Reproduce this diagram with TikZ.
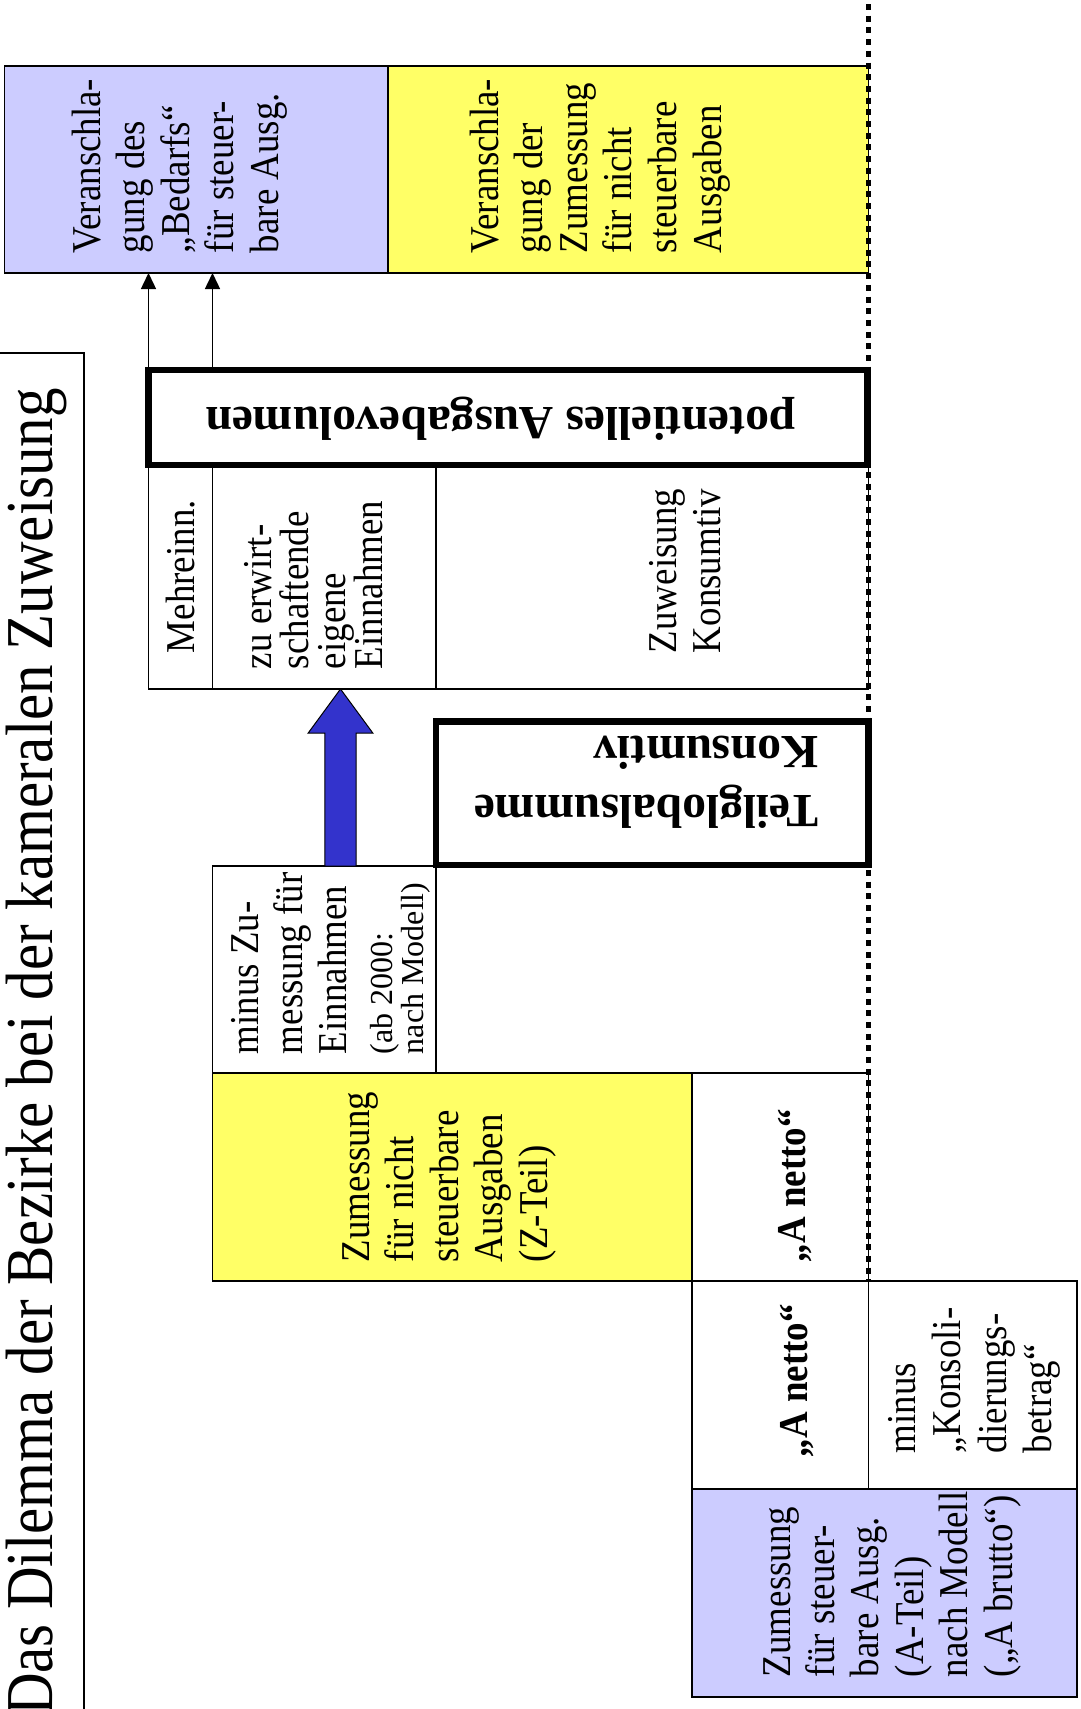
\documentclass[tikz,border=0pt]{standalone}
\usepackage{fontspec}
\setmainfont{Liberation Serif}
\newfontfamily\rotfont{Liberation Serif}[FakeStretch=0.9]
\newfontfamily\titlefont{Liberation Serif}[FakeStretch=0.88]
\usetikzlibrary{arrows.meta,calc}
\setlength{\lineskiplimit}{-100pt}
\definecolor{lav}{HTML}{CCCCFF}
\definecolor{yel}{HTML}{FFFF66}
\definecolor{arrowblue}{HTML}{3333CC}
\newcommand\myr[1]{\rule{0pt}{#1}}
\begin{document}
\begin{tikzpicture}[x=1pt,y=-1pt,
  cell/.style={draw=black, line width=1.8pt, inner sep=0pt, outer sep=0pt, anchor=north west},
  heavycell/.style={cell, line width=6.5pt},
  vtxt/.style={rotate=90, inner sep=0pt, outer sep=0pt, align=left, font=\rotfont\fontsize{41}{44.5}\selectfont},
  vbold/.style={vtxt, font=\rotfont\bfseries\fontsize{41}{44.5}\selectfont},
  utxt/.style={rotate=180, inner sep=0pt, outer sep=0pt, align=left, font=\bfseries\fontsize{47.5}{59}\selectfont},
  thinarrow/.style={line width=1.5pt, -{Triangle[length=16pt,width=15pt]}},
  dotline/.style={line width=5.5pt, dash pattern=on 6pt off 5.7pt},
  bigarrow/.style={fill=arrowblue, draw=black, line width=1pt}
]
\useasboundingbox (0,0) rectangle (1080,1709);
\fill[white] (0,0) rectangle (1080,1709);
\clip (0,0) rectangle (1080,1709);

% title frame
\draw[line width=1.8pt] (-10,353) rectangle (84,1720);
\node[rotate=90, inner sep=0pt, anchor=base east, font=\titlefont\fontsize{67}{70}\selectfont] (title) at (52,388) {Das Dilemma der Bezirke bei der kameralen Zuweisung};

% boxes
\node[cell, fill=lav, minimum width=383.5pt, minimum height=207pt] (topblue) at (4.5,66) {};
\node[cell, fill=yel, minimum width=480.5pt, minimum height=207pt] (topyel) at (388,66) {};
\node[cell, minimum width=64pt, minimum height=224pt] (mehr) at (148.5,465) {};
\node[cell, minimum width=223.5pt, minimum height=224pt] (zu) at (212.5,465) {};
\node[cell, minimum width=432.5pt, minimum height=224pt] (zuw) at (436,465) {};
\node[cell, minimum width=223.5pt, minimum height=207pt] (minuszu) at (212.5,866) {};
\node[cell, fill=yel, minimum width=479.5pt, minimum height=208pt] (zteil) at (212.5,1073) {};
\node[cell, minimum width=176.5pt, minimum height=208pt] (anet1) at (692,1073) {};
\node[cell, minimum width=176.5pt, minimum height=208pt] (anet2) at (692,1281) {};
\node[cell, minimum width=208.5pt, minimum height=208pt] (konsoli) at (868.5,1281) {};
\node[cell, fill=lav, minimum width=385pt, minimum height=208pt] (botblue) at (692,1489) {};
\node[heavycell, minimum width=719pt, minimum height=95pt] (pot) at (148.5,370) {};
\node[heavycell, minimum width=432.5pt, minimum height=143.5pt] (teil) at (436,721.5) {};

% thin arrows
\draw[thinarrow] (pot.north west) -- (pot.north west |- topblue.south);
\draw[thinarrow] (zu.north west |- pot.north) -- (zu.north west |- topblue.south);

% big blue arrow
\path (zu.south) ++(16.25,0) coordinate (btip);
\path (minuszu.north) ++(16.25,0) coordinate (bbase);
\draw[bigarrow] (btip) -- ($(btip)+(32.3,44)$) -- ($(btip)+(15.6,44)$) -- ($(bbase)+(15.6,0)$)
  -- ($(bbase)+(-15.6,0)$) -- ($(btip)+(-15.6,44)$) -- ($(btip)+(-32.3,44)$) -- cycle;

% dotted line
\coordinate (dtop) at (868.5,4);
\draw[dotline] (dtop) -- (anet2.north east);

% texts
\node[vtxt, anchor=north west] (t1) at (70,253) {\myr{30pt}Veranschla-\\gung des\\„Bedarfs“\\für steuer-\\bare Ausg.};
\node[vtxt, anchor=north west, font=\rotfont\fontsize{41}{44.6}\selectfont] (t2) at (468,253) {\myr{30pt}Veranschla-\\gung der\\Zumessung\\für nicht\\steuerbare\\Ausgaben};
\node[vtxt, anchor=base west] (t3) at (194,653) {Mehreinn.};
\node[vtxt, anchor=north west, font=\rotfont\fontsize{41}{37.3}\selectfont] (t4) at (241,669) {\myr{30pt}zu erwirt-\\schaftende\\eigene\\Einnahmen};
\node[vtxt, anchor=north west, font=\rotfont\fontsize{41}{44}\selectfont] (t5) at (646,653) {\myr{30pt}Zuweisung\\Konsumtiv};
\node[vtxt, anchor=north west, font=\rotfont\fontsize{41}{44.2}\selectfont] (t6) at (228.3,1054) {\myr{30pt}minus Zu-\\messung für\\Einnahmen};
\node[vtxt, anchor=north west, font=\fontsize{32}{31}\selectfont] (t7) at (368,1054) {\myr{24pt}(ab 2000:\\nach Modell)};
\node[vtxt, anchor=north west] (t8) at (339,1262) {\myr{30pt}Zumessung\\für nicht\\steuerbare\\Ausgaben\\(Z-Teil)};
\node[vbold, anchor=base west] (t9) at (805,1262) {„A netto“};
\node[vbold, anchor=base west] (t10) at (807,1457) {„A netto“};
\node[vtxt, anchor=north west, font=\rotfont\fontsize{41}{45.6}\selectfont] (t11) at (885,1453) {\myr{30pt}minus\\„Konsoli-\\dierungs-\\betrag“};
\node[vtxt, anchor=north west, font=\rotfont\fontsize{41}{44.4}\selectfont] (t12) at (760,1677) {\myr{30pt}Zumessung\\für steuer-\\bare Ausg.\\(A-Teil)\\nach Modell\\(„A brutto“)};
\node[utxt, anchor=center] (t13) at (500.5,419) {potentielles Ausgabevolumen};
\node[utxt, anchor=north west] (t14) at (818,831) {\myr{36pt}Teilglobalsumme\\Konsumtiv};
\end{tikzpicture}
\end{document}
